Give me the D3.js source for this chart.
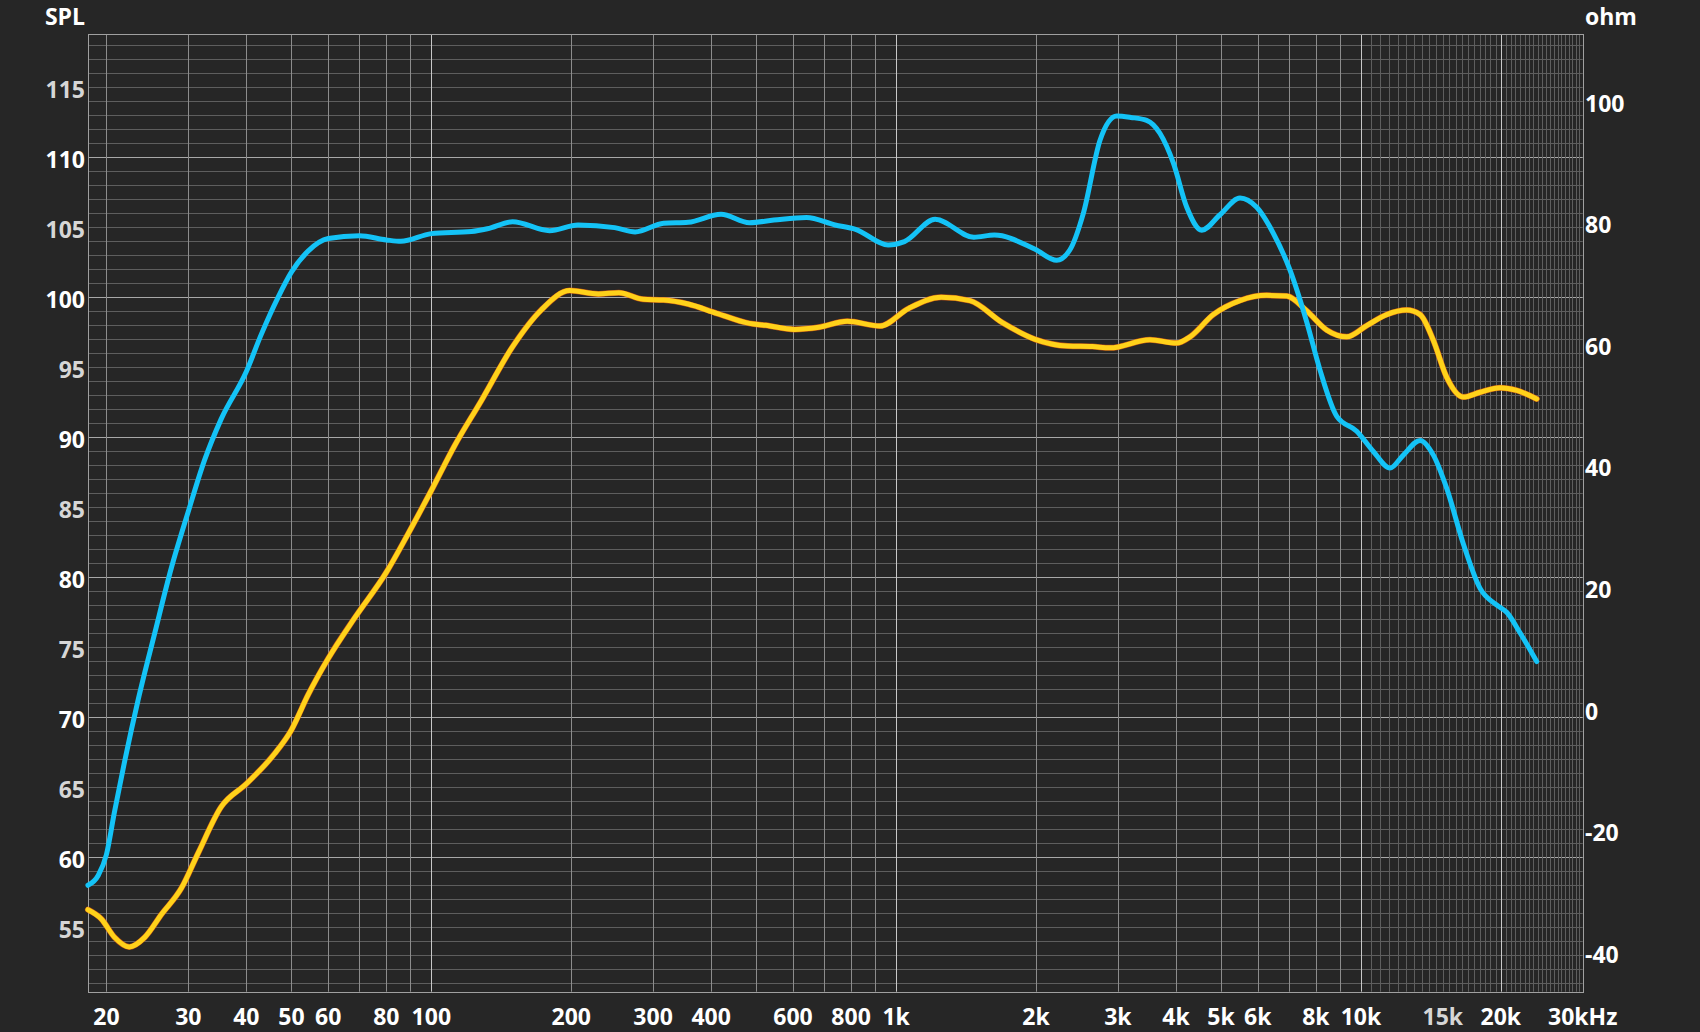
<!DOCTYPE html>
<html>
<head>
<meta charset="utf-8">
<script src="https://cdn.jsdelivr.net/npm/d3@7"></script>
<style>
  html, body { margin: 0; padding: 0; background: #262626; }
  svg { display: block; }
  text { font-family: "Open Sans", "DejaVu Sans", sans-serif; font-weight: 700; }
</style>
</head>
<body>
<svg id="chart" width="1700" height="1032"></svg>
<script>
// ---------- data ----------
const blueFreq = [18.25, 19.2, 20, 20.8, 21.9, 23.4, 25.4, 27.6, 30, 32.5, 35.3, 40, 43, 46.8, 50, 54.3, 60, 70, 80, 86, 100, 122, 132, 149.6, 179.6, 206.8, 248, 274.5, 316, 357, 420, 483.5, 546, 641.5, 739, 818, 961, 1042, 1213, 1470, 1627, 1991, 2215, 2364, 2528, 2747, 2983, 3200, 3459, 3697, 3948, 4220, 4546, 4976, 5494, 5968, 6478, 7038, 7645, 8166, 8873, 9795, 10634, 11550, 12337, 13408, 14317, 15297, 16611, 18043, 19597, 20590, 21990, 23890];
const blueDb = [58.0, 58.7, 60.2, 63.2, 66.9, 71.25, 76.0, 80.7, 84.7, 88.35, 91.3, 94.7, 97.3, 100.0, 101.8, 103.3, 104.2, 104.4, 104.1, 104.0, 104.55, 104.7, 104.9, 105.4, 104.76, 105.17, 104.98, 104.67, 105.29, 105.36, 105.93, 105.33, 105.52, 105.71, 105.17, 104.86, 103.74, 103.98, 105.57, 104.29, 104.45, 103.43, 102.65, 103.38, 106.0, 111.24, 112.95, 112.85, 112.64, 111.7, 109.6, 106.43, 104.8, 105.9, 107.1, 106.43, 104.58, 101.94, 98.24, 94.8, 91.5, 90.44, 88.99, 87.8, 88.73, 89.78, 88.73, 86.35, 82.38, 79.21, 78.02, 77.5, 76.04, 73.98];

const yellowFreq = [18.25, 19.5, 20.8, 22.4, 24.2, 26.3, 29.0, 31.5, 35.3, 40, 46, 50, 54.3, 60, 68.4, 80, 89.1, 100, 112.2, 128, 149.6, 172.4, 198.6, 228.8, 253.2, 285.8, 316, 357, 411, 483.5, 524, 604, 682, 785, 923, 1064, 1250, 1441, 1693, 1991, 2342, 2643, 2884, 3516, 4013, 4289, 4813, 5494, 6271, 6925, 7645, 8441, 9320, 10291, 11364, 12547, 13408, 14317, 15297, 16611, 18043, 19924, 21640, 23890];
const yellowDb = [56.26, 55.6, 54.3, 53.6, 54.3, 55.95, 57.8, 60.3, 63.6, 65.25, 67.4, 69.1, 71.6, 74.2, 77.1, 80.35, 83.1, 86.2, 89.4, 92.6, 96.48, 99.1, 100.48, 100.24, 100.33, 99.86, 99.81, 99.52, 98.86, 98.14, 98.0, 97.71, 97.86, 98.29, 97.95, 99.21, 100.0, 99.76, 98.19, 97.0, 96.52, 96.48, 96.39, 96.97, 96.73, 97.18, 98.77, 99.77, 100.14, 100.09, 99.03, 97.66, 97.18, 97.98, 98.77, 99.09, 98.77, 96.92, 94.28, 92.88, 93.22, 93.54, 93.35, 92.74];

const dbTicks = [55, 60, 65, 70, 75, 80, 85, 90, 95, 100, 105, 110, 115];
const ohmTicks = [-40, -20, 0, 20, 40, 60, 80, 100];
const freqTicks = [20, 30, 40, 50, 60, 80, 100, 200, 300, 400, 600, 800, 1000, 2000, 3000, 4000, 5000, 6000, 8000, 10000, 15000, 20000, 30000];
const freqTickLabels = ["20", "30", "40", "50", "60", "80", "100", "200", "300", "400", "600", "800", "1k", "2k", "3k", "4k", "5k", "6k", "8k", "10k", "15k", "20k", "30kHz"];

// ---------- layout ----------
const L = 88.4, R = 1582.7, T = 34, B = 991.7;
const svg = d3.select("#chart");
const x = d3.scaleLog().domain([18.29, 30000]).range([L, R]);
const y = d3.scaleLinear().domain([50.4, 118.81]).range([B, T]);
const yOhm = d3.scaleLinear().domain([-46.58, 110.97]).range([B, T]);

svg.append("rect").attr("width", 1700).attr("height", 1032).attr("fill", "#262626");

// ---------- grid ----------
const g = svg.append("g");
const hLines = d3.range(51, 119, 1);
g.selectAll("line.h").data(hLines).enter().append("line")
  .attr("x1", L).attr("x2", R)
  .attr("y1", d => Math.round(y(d)) + 0.5).attr("y2", d => Math.round(y(d)) + 0.5)
  .attr("stroke", d => d % 10 === 0 ? "#a8a8a8" : "#5e5e5e")
  .attr("stroke-width", 1);

const vLines = [].concat(
  d3.range(20, 101, 10),
  d3.range(200, 1001, 100),
  d3.range(2000, 10001, 1000),
  d3.range(10500, 30001, 500)
);
const brightV = new Set([100, 1000, 10000, 20000]);
g.selectAll("line.v").data(vLines).enter().append("line")
  .attr("y1", T).attr("y2", B)
  .attr("x1", d => Math.round(x(d)) + 0.5).attr("x2", d => Math.round(x(d)) + 0.5)
  .attr("stroke", d => brightV.has(d) ? "#c8c8c8" : (d > 10000 ? "#5e5e5e" : "#8c8c8c"))
  .attr("stroke-width", 1);

svg.append("rect").attr("x", Math.round(L) + 0.5).attr("y", Math.round(T) + 0.5)
  .attr("width", Math.round(R) - Math.round(L)).attr("height", Math.round(B) - Math.round(T))
  .attr("fill", "none").attr("stroke", "#a0a0a0").attr("stroke-width", 1);

// ---------- curves ----------
const line = d3.line().x(d => x(d[0])).y(d => y(d[1])).curve(d3.curveMonotoneX);
const yellowData = yellowFreq.map((f, i) => [f, yellowDb[i]]);
const blueData = blueFreq.map((f, i) => [f, blueDb[i]]);

svg.append("path").datum(yellowData).attr("d", line)
  .attr("fill", "none").attr("stroke", "#e05a10").attr("stroke-width", 6)
  .attr("stroke-linecap", "round").attr("stroke-linejoin", "round").attr("opacity", 0.8);
svg.append("path").datum(yellowData).attr("d", line)
  .attr("fill", "none").attr("stroke", "#ffd21a").attr("stroke-width", 5)
  .attr("stroke-linecap", "round").attr("stroke-linejoin", "round");
svg.append("path").datum(blueData).attr("d", line)
  .attr("fill", "none").attr("stroke", "#14c3f7").attr("stroke-width", 5)
  .attr("stroke-linecap", "round").attr("stroke-linejoin", "round");

// ---------- axis labels ----------
const fs = 23;
svg.selectAll("text.ylab").data(dbTicks).enter().append("text")
  .attr("x", 85).attr("y", d => y(d) + 11)
  .attr("text-anchor", "end").attr("font-size", fs)
  .attr("fill", d => d % 10 === 0 ? "#ffffff" : "#d6d6d6")
  .text(d => d);

svg.selectAll("text.ohm").data(ohmTicks).enter().append("text")
  .attr("x", 1585).attr("y", d => yOhm(d) + 11)
  .attr("text-anchor", "start").attr("font-size", fs)
  .attr("fill", "#ffffff")
  .text(d => d);

svg.selectAll("text.xlab").data(freqTicks).enter().append("text")
  .attr("x", d => x(d)).attr("y", 1025)
  .attr("text-anchor", "middle").attr("font-size", fs)
  .attr("fill", (d, i) => freqTickLabels[i] === "15k" ? "#d6d6d6" : "#ffffff")
  .text((d, i) => freqTickLabels[i]);

svg.append("text").attr("x", 85).attr("y", 25).attr("text-anchor", "end")
  .attr("font-size", fs).attr("fill", "#ffffff").text("SPL");
svg.append("text").attr("x", 1585).attr("y", 25).attr("text-anchor", "start")
  .attr("font-size", fs).attr("fill", "#ffffff").text("ohm");
</script>
</body>
</html>
